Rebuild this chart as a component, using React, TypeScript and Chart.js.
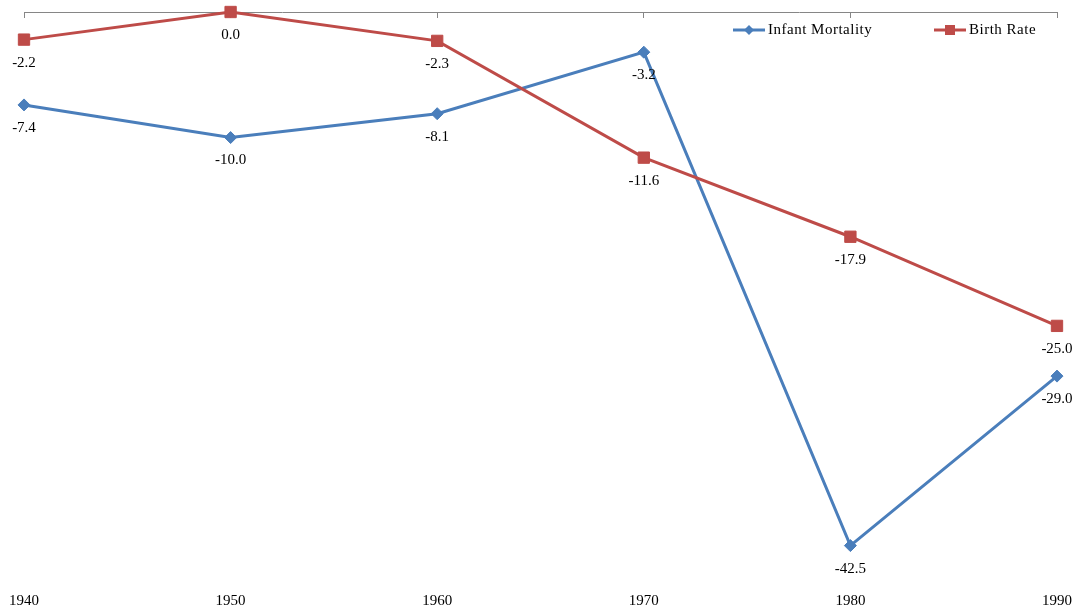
import React, { useEffect, useRef } from "react";
import { Chart, registerables } from "chart.js";

Chart.register(...registerables);

const years = ["1940", "1950", "1960", "1970", "1980", "1990"];
const infantMortality = [-7.4, -10.0, -8.1, -3.2, -42.5, -29.0];
const birthRate = [-2.2, 0.0, -2.3, -11.6, -17.9, -25.0];
const seriesNames = ["Infant Mortality", "Birth Rate"];

const BLUE = "#4A7EBB";
const RED = "#BE4B48";
const FONT = "'Liberation Serif', 'Times New Roman', serif";

const dataLabelPlugin = {
  id: "dataLabels",
  afterDatasetsDraw(chart: any) {
    const ctx = chart.ctx;
    ctx.save();
    ctx.font = `15px ${FONT}`;
    ctx.fillStyle = "#000";
    ctx.textAlign = "center";
    ctx.textBaseline = "middle";
    chart.data.datasets.forEach((ds: any, i: number) => {
      const meta = chart.getDatasetMeta(i);
      meta.data.forEach((pt: any, j: number) => {
        ctx.fillText(Number(ds.data[j]).toFixed(1), pt.x, pt.y + 23);
      });
    });
    ctx.restore();
  },
};

const legendPlugin = {
  id: "customLegend",
  afterDraw(chart: any) {
    const ctx = chart.ctx;
    const y = 30;
    const items = [
      { name: seriesNames[0], color: BLUE, shape: "diamond", x: 733 },
      { name: seriesNames[1], color: RED, shape: "square", x: 934 },
    ];
    ctx.save();
    items.forEach((it) => {
      ctx.strokeStyle = it.color;
      ctx.fillStyle = it.color;
      ctx.lineWidth = 3;
      ctx.beginPath();
      ctx.moveTo(it.x, y);
      ctx.lineTo(it.x + 32, y);
      ctx.stroke();
      const cx = it.x + 16;
      ctx.beginPath();
      if (it.shape === "diamond") {
        ctx.moveTo(cx, y - 5);
        ctx.lineTo(cx + 5, y);
        ctx.lineTo(cx, y + 5);
        ctx.lineTo(cx - 5, y);
        ctx.closePath();
      } else {
        ctx.rect(cx - 5, y - 5, 10, 10);
      }
      ctx.fill();
      ctx.fillStyle = "#000";
      ctx.font = `15px ${FONT}`;
      (ctx as any).letterSpacing = "0.5px";
      ctx.textAlign = "left";
      ctx.textBaseline = "middle";
      ctx.fillText(it.name, it.x + 35, y);
      (ctx as any).letterSpacing = "0px";
    });
    ctx.restore();
  },
};

export default function App() {
  const ref = useRef<HTMLCanvasElement>(null);
  useEffect(() => {
    document.body.style.margin = "0";
    const chart = new Chart(ref.current!, {
      type: "line",
      data: {
        labels: years,
        datasets: [
          {
            label: seriesNames[0],
            data: infantMortality,
            borderColor: BLUE,
            backgroundColor: BLUE,
            borderWidth: 3,
            pointStyle: "rectRot",
            pointRadius: 6,
            pointBorderWidth: 1,
            tension: 0,
            order: 1,
          },
          {
            label: seriesNames[1],
            data: birthRate,
            borderColor: RED,
            backgroundColor: RED,
            borderWidth: 3,
            pointStyle: "rect",
            pointRadius: 8,
            pointBorderWidth: 1,
            tension: 0,
            order: 0,
          },
        ],
      },
      options: {
        responsive: false,
        animation: false,
        clip: false,
        layout: { padding: { top: 12, left: 24, right: 22, bottom: 2 } },
        plugins: { legend: { display: false }, tooltip: { enabled: false } },
        scales: {
          x: {
            type: "category",
            offset: false,
            position: "bottom",
            border: { display: false },
            grid: { display: false, drawTicks: false },
            ticks: {
              padding: 15,
              color: "#000",
              font: { family: FONT, size: 15 },
              maxRotation: 0,
              autoSkip: false,
            },
            afterFit(scale: any) {
              scale.height = 33;
              scale.paddingLeft = 0;
              scale.paddingRight = 0;
            },
          },
          x0: {
            type: "category",
            offset: false,
            position: { y: 0 },
            border: { display: true, color: "#868686", width: 1 },
            grid: { display: true, drawOnChartArea: false, drawTicks: true, tickLength: 5, color: "#868686" },
            ticks: { display: false },
          },
          y: {
            display: false,
            min: -45,
            max: 0,
          },
        },
      } as any,
      plugins: [dataLabelPlugin, legendPlugin],
    });
    return () => chart.destroy();
  }, []);
  return <canvas ref={ref} width={1079} height={612} style={{ display: "block" }} />;
}
